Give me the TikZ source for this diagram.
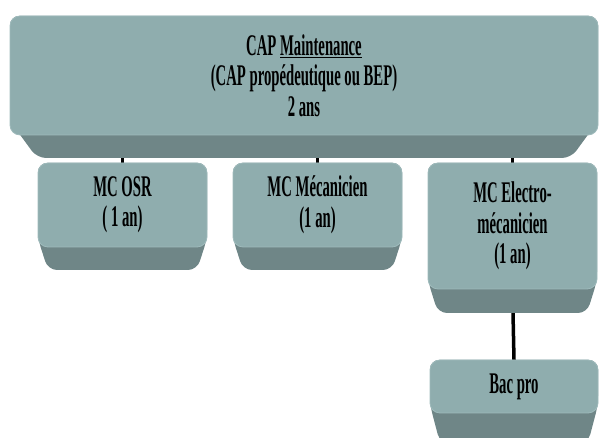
\documentclass[tikz,border=0pt]{standalone}
\usepackage{fontspec}
\usepackage{tikz}
\usepackage{xcolor}
\usetikzlibrary{calc, backgrounds}

\newfontfamily\etroit[FakeStretch=0.49]{Liberation Serif}
\definecolor{face}{RGB}{143,173,174}
\definecolor{rebord}{RGB}{158,186,187}
\definecolor{biseau}{RGB}{111,134,135}

% bevel under a box: node, depth, inset, height where the slant starts
\newcommand{\biseau}[4]{%
  \fill[biseau, rounded corners=9pt]
    (#1.north west) -- (#1.north east) -- ($(#1.south east)+(0,#4)$)
    -- ($(#1.south east)+(-#3,-#2)$) -- ($(#1.south west)+(#3,-#2)$)
    -- ($(#1.south west)+(0,#4)$) -- cycle;}

\begin{document}
\begin{tikzpicture}[x=1pt, y=1pt,
    bloc/.style={fill=face, draw=rebord, line width=0.8pt, rounded corners=10pt,
      inner sep=0pt, outer sep=0pt, align=center,
      font=\etroit\bfseries\fontsize{30}{30.5}\selectfont},
    lien/.style={line width=3.5pt, black}]
    \useasboundingbox (0,0) rectangle (605,438);

    \node[bloc, minimum width=588, minimum height=119] (cap) at (304,362.5)
      {CAP \underline{Maintenance}\\(CAP propédeutique ou BEP)\\2 ans};

    \node[bloc, minimum width=169, minimum height=84] (osr) at (122.5,233) {MC OSR\\( 1 an)};
    \node[bloc, minimum width=169, minimum height=84] (meca) at (317.5,233) {MC Mécanicien\\(1 an)};
    \node[bloc, minimum width=169, minimum height=126] (elec) at (512.5,212)
      {MC Electro-\\mécanicien\\(1 an)};
    \node[bloc, minimum width=168, minimum height=53] (bac) at (514,51.5) {Bac pro};

    \begin{scope}[on background layer]
        \draw[lien] (cap.south -| osr.north) -- (osr.north);
        \draw[lien] (cap.south -| meca.north) -- (meca.north);
        \draw[lien] (cap.south -| elec.north) -- (elec.north);
        \draw[lien] (elec.south) -- (bac.north);

        \biseau{cap}{23}{27}{14}
        \biseau{osr}{23}{10}{8}
        \biseau{meca}{23}{10}{8}
        \biseau{elec}{24}{10}{8}
        \biseau{bac}{30}{10}{8}
    \end{scope}
\end{tikzpicture}
\end{document}
